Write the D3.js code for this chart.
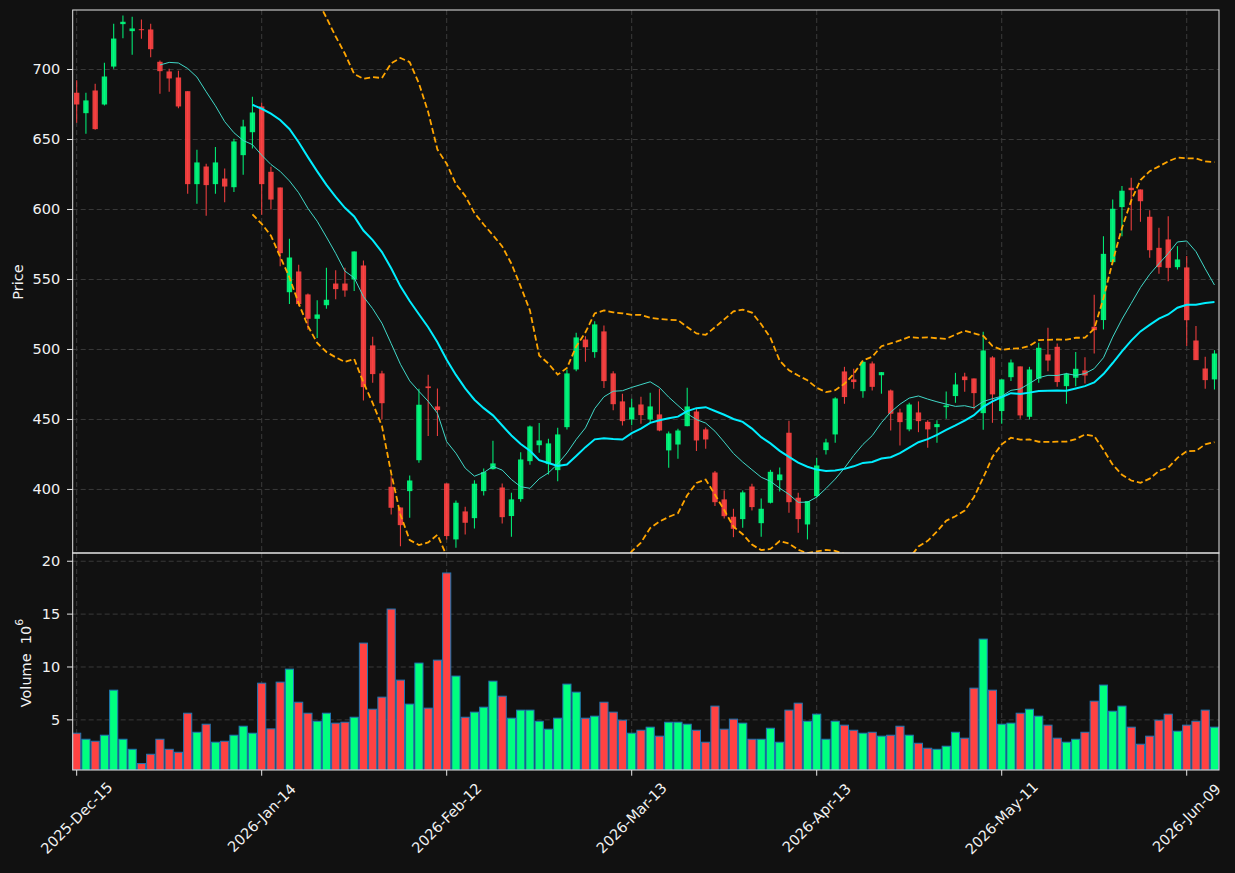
<!DOCTYPE html>
<html><head><meta charset="utf-8">
<script src="https://cdn.jsdelivr.net/npm/d3@7"></script>
<style>html,body{margin:0;padding:0;background:#111111;} svg{display:block;font-family:"DejaVu Sans",sans-serif;}</style>
</head><body><svg id="chart" width="1235" height="873"></svg>
<script>
// ---- data ----
const opens=[683.4,668.8,685.0,675.0,702.1,732.4,727.4,728.8,728.6,705.5,698.6,694.3,684.5,618.1,630.7,618.1,622.1,615.9,638.8,655.2,
673.6,626.9,615.7,540.9,555.7,539.3,521.9,531.6,547.1,547.1,550.0,560.0,502.9,482.9,401.9,387.1,398.8,420.9,473.6,459.3,
404.3,364.3,384.3,379.5,398.8,414.5,401.4,381.0,393.1,420.2,431.6,418.1,413.8,444.5,485.7,507.1,498.1,512.9,482.9,462.9,
450.0,460.7,450.0,453.6,427.9,432.1,445.2,455.7,442.9,412.1,392.9,380.5,378.8,402.1,375.9,390.5,406.6,440.5,394.1,375.0,
395.2,428.1,439.3,484.3,478.6,470.2,490.0,481.6,470.7,455.0,442.9,455.0,448.3,444.5,458.8,466.7,480.7,479.3,454.5,494.3,
456.0,480.2,487.9,451.9,479.1,496.4,501.9,473.8,479.8,485.0,516.2,521.0,562.4,601.7,615.5,614.3,594.8,572.6,578.6,558.8,
558.6,506.4,486.4,478.6];
const highs=[692.4,683.4,689.8,704.8,732.6,738.6,737.6,735.7,732.6,706.4,700.5,699.1,684.5,642.6,632.6,644.6,629.3,650.5,664.1,680.5,
676.2,630.5,615.7,579.1,560.5,540.0,535.2,558.3,556.6,558.3,570.0,563.6,509.1,484.8,409.5,387.1,410.0,471.9,481.9,472.1,
404.3,392.1,387.6,406.6,415.0,434.8,404.3,397.6,426.6,445.7,447.4,436.2,444.0,485.7,511.9,509.5,520.2,517.1,484.5,468.4,
464.8,466.2,469.1,471.9,441.4,443.3,472.6,457.4,444.3,413.1,399.3,386.2,399.3,404.1,393.6,414.0,415.7,449.1,397.6,391.7,
422.6,436.2,465.9,487.6,486.2,491.2,491.4,483.8,471.4,457.6,461.9,462.9,449.5,449.5,470.0,483.3,483.3,479.3,512.6,495.2,
478.6,492.9,487.9,487.6,504.8,515.5,504.3,483.3,498.1,494.5,539.1,580.9,607.1,616.7,622.6,614.3,599.5,586.9,595.2,573.8,
566.7,516.7,494.8,499.5];
const lows=[661.9,654.1,657.0,674.3,700.5,722.4,710.5,721.9,708.8,682.6,684.1,672.4,611.2,604.1,595.5,611.2,605.2,612.4,624.8,643.6,
596.2,600.0,559.5,532.4,530.9,514.0,508.1,529.0,535.9,537.6,541.7,463.6,476.2,450.0,382.1,359.5,379.8,419.0,438.1,438.1,
364.3,358.4,367.9,372.1,395.7,414.3,375.7,366.2,391.2,417.6,426.2,410.7,405.9,442.9,484.5,491.2,494.0,472.4,456.6,445.7,
445.9,446.9,448.1,441.6,415.5,421.9,445.2,427.4,429.1,388.1,379.3,365.9,372.6,385.0,366.2,390.0,398.6,383.3,369.1,364.3,
394.1,425.0,433.4,461.2,471.9,465.5,470.7,468.4,442.1,431.4,441.6,440.9,429.8,433.4,450.5,461.9,469.8,457.1,442.6,447.6,
446.9,477.4,450.5,450.0,476.2,484.5,473.3,461.2,473.8,475.7,497.1,514.3,560.7,580.9,585.0,591.2,565.5,554.1,548.8,557.1,
502.4,492.4,471.9,471.4];
const closes=[675.0,677.9,657.4,695.0,722.1,734.1,729.3,728.1,714.5,698.8,693.6,673.6,618.1,633.6,617.4,633.6,616.4,648.6,659.3,669.3,
618.1,607.1,568.8,565.7,532.4,521.9,525.0,535.5,543.1,542.1,570.0,473.1,482.4,461.6,386.9,374.5,406.4,460.5,472.4,456.7,
366.7,390.5,376.2,404.1,412.4,418.6,380.2,392.9,421.4,445.0,435.0,432.9,439.3,482.9,508.6,501.6,517.9,477.4,460.9,448.8,
458.6,453.1,459.3,442.1,440.0,442.1,459.3,435.0,435.7,390.9,380.9,371.9,397.9,387.4,386.2,412.6,410.7,390.9,378.8,391.7,
417.1,433.6,465.0,466.0,476.7,491.2,473.3,483.8,454.1,448.1,460.7,448.8,442.9,446.7,460.0,475.0,478.1,468.8,499.3,467.9,
478.6,490.7,452.9,485.7,501.2,492.1,476.7,482.6,486.2,481.4,513.8,568.3,600.5,613.4,613.8,605.9,570.9,558.8,558.3,564.3,
520.9,492.4,478.1,497.1];
const volumes=[3.74,3.17,2.98,3.55,7.81,3.17,2.22,0.87,1.75,3.17,2.22,1.94,5.63,3.83,4.59,2.89,2.98,3.55,4.40,3.74,
8.47,4.15,8.57,9.80,6.67,5.63,4.87,5.63,4.69,4.78,5.25,12.26,6.01,7.15,15.48,8.76,6.49,10.37,6.11,10.65,
18.89,9.14,5.25,5.73,6.20,8.66,7.24,5.16,5.92,5.92,4.87,4.12,5.16,8.38,7.62,5.16,5.35,6.67,5.73,4.97,
3.74,4.02,4.31,3.46,4.78,4.78,4.59,4.02,2.89,6.30,4.12,5.07,4.69,3.17,3.17,4.21,2.89,5.92,6.58,4.87,
5.54,3.17,4.87,4.50,4.02,3.74,3.83,3.46,3.55,4.40,3.55,2.79,2.32,2.22,2.51,3.83,3.27,8.00,12.64,7.81,
4.59,4.69,5.63,6.01,5.35,4.50,3.27,2.89,3.17,3.83,6.77,8.29,5.82,6.30,4.31,2.70,3.46,4.97,5.54,3.93,
4.50,4.87,5.92,4.31];
const tickIndex=[0,20,40,60,80,100,120];
const tickLabels=["2025-Dec-15","2026-Jan-14","2026-Feb-12","2026-Mar-13","2026-Apr-13","2026-May-11","2026-Jun-09"];
const priceTicks=[400,450,500,550,600,650,700];
const volumeTicks=[5,10,15,20];
const maShort=10, maLong=20, bbK=2;

// ---- layout ----
const L=72.7, R=1219, pTop=10, pBot=553, vTop=553, vBot=770;
const n=closes.length;
const x=d3.scaleLinear().domain([-0.43,123.49]).range([L,R]);
const y=d3.scaleLinear().domain([354.6,742.5]).range([pBot,pTop]);
const yv=d3.scaleLinear().domain([0.3*d3.min(volumes),1.1*d3.max(volumes)]).range([vBot,vTop]);
const step=x(1)-x(0);
const upC="#00ff7f", dnC="#ff4242", gridC="#3a3a3a", spineC="#e6e6e6", txtC="#f2f2f2";

const svg=d3.select("#chart");
svg.append("rect").attr("width",1235).attr("height",873).attr("fill","#111111");
const defs=svg.append("defs");
defs.append("clipPath").attr("id","cp").append("rect").attr("x",L).attr("y",pTop).attr("width",R-L).attr("height",pBot-pTop);
defs.append("clipPath").attr("id","cv").append("rect").attr("x",L).attr("y",vTop).attr("width",R-L).attr("height",vBot-vTop);

// grids
const gp=svg.append("g").attr("clip-path","url(#cp)");
const gv=svg.append("g").attr("clip-path","url(#cv)");
function hgrid(g,ticks,scale){g.selectAll(null).data(ticks).enter().append("line")
  .attr("x1",L).attr("x2",R).attr("y1",d=>scale(d)).attr("y2",d=>scale(d))
  .attr("stroke",gridC).attr("stroke-width",1).attr("stroke-dasharray","5,3");}
function vgrid(g,t,b){g.selectAll(null).data(tickIndex).enter().append("line")
  .attr("x1",d=>x(d)).attr("x2",d=>x(d)).attr("y1",t).attr("y2",b)
  .attr("stroke",gridC).attr("stroke-width",1).attr("stroke-dasharray","5,3");}
hgrid(gp,priceTicks,y); vgrid(gp,pTop,pBot);
hgrid(gv,volumeTicks,yv); vgrid(gv,vTop,vBot);

// candles
const idx=d3.range(n);
const isUp=i=>closes[i]>=opens[i];
gp.selectAll(".wick").data(idx).enter().append("line")
  .attr("x1",i=>x(i)).attr("x2",i=>x(i)).attr("y1",i=>y(highs[i])).attr("y2",i=>y(lows[i]))
  .attr("stroke",i=>isUp(i)?upC:dnC).attr("stroke-width",1.1).attr("opacity",0.9);
const bw=step*0.58;
gp.selectAll(".body").data(idx).enter().append("rect")
  .attr("x",i=>x(i)-bw/2).attr("width",bw)
  .attr("y",i=>y(Math.max(opens[i],closes[i])))
  .attr("height",i=>Math.max(1,Math.abs(y(opens[i])-y(closes[i]))))
  .attr("fill",i=>isUp(i)?upC:dnC).attr("opacity",0.9);

// moving averages and bands (derived from closes)
function rolling(k,fn){return idx.map(i=>i<k-1?null:fn(closes.slice(i-k+1,i+1)));}
const ma10=rolling(maShort,a=>d3.mean(a));
const ma20=rolling(maLong,a=>d3.mean(a));
const sd20=rolling(maLong,a=>d3.deviation(a));
const upper=idx.map(i=>ma20[i]==null?null:ma20[i]+bbK*sd20[i]);
const lower=idx.map(i=>ma20[i]==null?null:ma20[i]-bbK*sd20[i]);
const lineGen=arr=>d3.line().defined(i=>arr[i]!=null).x(i=>x(i)).y(i=>y(arr[i]))(idx);
gp.append("path").attr("d",lineGen(ma10)).attr("fill","none").attr("stroke","#40d8c8").attr("stroke-width",1);
gp.append("path").attr("d",lineGen(ma20)).attr("fill","none").attr("stroke","#00eeff").attr("stroke-width",2);
[upper,lower].forEach(arr=>gp.append("path").attr("d",lineGen(arr)).attr("fill","none")
  .attr("stroke","#ffa500").attr("stroke-width",1.8).attr("stroke-dasharray","6,3"));

// volume
const vw=step*0.88;
gv.selectAll(".vol").data(idx).enter().append("rect")
  .attr("x",i=>x(i)-vw/2).attr("width",vw)
  .attr("y",i=>yv(volumes[i])).attr("height",i=>vBot-yv(volumes[i]))
  .attr("fill",i=>isUp(i)?upC:dnC).attr("stroke","#1f77b4").attr("stroke-width",1);

// spines
svg.append("rect").attr("x",L).attr("y",pTop).attr("width",R-L).attr("height",pBot-pTop).attr("fill","none").attr("stroke",spineC).attr("stroke-width",1);
svg.append("rect").attr("x",L).attr("y",vTop).attr("width",R-L).attr("height",vBot-vTop).attr("fill","none").attr("stroke",spineC).attr("stroke-width",1);

// y ticks
function yticks(ticks,scale){
  const g=svg.append("g");
  g.selectAll(null).data(ticks).enter().append("line").attr("x1",L-5.7).attr("x2",L)
   .attr("y1",d=>scale(d)).attr("y2",d=>scale(d)).attr("stroke",spineC);
  g.selectAll(null).data(ticks).enter().append("text").attr("x",L-12.5).attr("y",d=>scale(d))
   .attr("text-anchor","end").attr("dominant-baseline","central").attr("fill",txtC)
   .attr("font-size",14.5).text(d=>d);
}
yticks(priceTicks,y); yticks(volumeTicks,yv);

// x ticks
const gx=svg.append("g");
gx.selectAll(null).data(tickIndex).enter().append("line").attr("x1",d=>x(d)).attr("x2",d=>x(d))
  .attr("y1",vBot).attr("y2",vBot+5.7).attr("stroke",spineC);
gx.selectAll(null).data(tickIndex).enter().append("text")
  .attr("transform",(d)=>`translate(${x(d)},818) rotate(-45)`)
  .attr("text-anchor","middle").attr("dominant-baseline","central").attr("fill",txtC)
  .attr("font-size",14.5).text((d,i)=>tickLabels[i]);

// axis labels
svg.append("text").attr("transform","translate(18,282) rotate(-90)").attr("text-anchor","middle")
  .attr("dominant-baseline","central").attr("fill",txtC).attr("font-size",14.5).text("Price");
const vl=svg.append("text").attr("transform","translate(26,663) rotate(-90)").attr("text-anchor","middle")
  .attr("dominant-baseline","central").attr("fill",txtC).attr("font-size",14.5);
vl.append("tspan").text("Volume\u00a0\u00a010");
vl.append("tspan").attr("font-size",11).attr("dy",-7).text("6");
</script></body></html>
